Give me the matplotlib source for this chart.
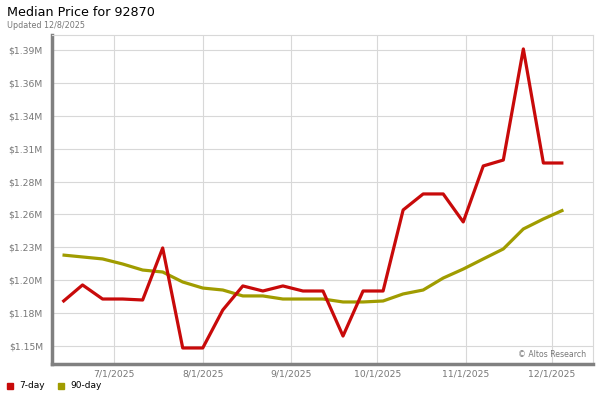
import datetime as dt
import matplotlib
matplotlib.use('Agg')
import matplotlib.pyplot as plt
import matplotlib.dates as mdates
from matplotlib.ticker import FuncFormatter
import numpy as np

# weekly data, Fridays
start = dt.date(2025, 6, 13)
n_pts = 26
dates = [start + dt.timedelta(days=7*i) for i in range(n_pts)]

# median price, 7-day (dollars)
price_7day = [1185700, 1199500, 1188100, 1188100, 1187300, 1229500, 1148400, 1148400,
              1179200, 1198700, 1194600, 1198700, 1194600, 1194600, 1158100, 1194600,
              1194600, 1260300, 1273300, 1273300, 1250600, 1296000, 1300800, 1390900,
              1298400, 1298400]
# median price, 90-day (dollars)
price_90day = [1223800, 1222200, 1220600, 1216500, 1211600, 1210000, 1201900, 1197000,
               1195400, 1190600, 1190600, 1188100, 1188100, 1188100, 1185700, 1185700,
               1186500, 1192200, 1195400, 1205100, 1212400, 1220600, 1228700, 1244900,
               1253000, 1260300]

xtick_dates = [dt.date(2025, 7, 1), dt.date(2025, 8, 1), dt.date(2025, 9, 1),
               dt.date(2025, 10, 1), dt.date(2025, 11, 1), dt.date(2025, 12, 1)]
ytick_vals = np.linspace(1150000, 1390000, 10)

red = '#c80a0a'
olive = '#a09c00'
gray_txt = '#777777'

fig = plt.figure(figsize=(6, 4), dpi=100)
ax = fig.add_axes([52/600, 36/400, 541/600, 329/400])

ax.plot(dates, price_90day, color=olive, lw=2.3, solid_capstyle='butt', zorder=3)
ax.plot(dates, price_7day, color=red, lw=2.3, solid_capstyle='butt', zorder=4)

ax.set_xlim(dt.datetime(2025, 6, 9, 8), dt.datetime(2025, 12, 15, 8))
ax.set_ylim(1135400, 1402200)
ax.set_xticks(xtick_dates)
ax.xaxis.set_major_formatter(FuncFormatter(
    lambda v, p: (lambda d: '%d/%d/%d' % (d.month, d.day, d.year))(mdates.num2date(v))))
ax.set_yticks(ytick_vals)
ax.yaxis.set_major_formatter(FuncFormatter(lambda v, p: '$%.2fM' % (v/1e6)))

ax.grid(True, color='#d8d8d8', lw=0.8)
ax.set_axisbelow(True)
ax.tick_params(axis='both', length=0, labelsize=6.7, colors=gray_txt)
ax.tick_params(axis='y', pad=6.5)
ax.tick_params(axis='x', pad=4)

for s in ['top', 'right']:
    ax.spines[s].set_color('#d8d8d8')
    ax.spines[s].set_linewidth(0.8)
for s in ['left', 'bottom']:
    ax.spines[s].set_color('#808080')
    ax.spines[s].set_linewidth(2.5)

ax.text(0.988, 0.03, '\u00a9 Altos Research', transform=ax.transAxes, ha='right', va='center',
        fontsize=5.6, color=gray_txt)

fig.text(7/600, 1-12/400, 'Median Price for 92870', fontsize=9.2, ha='left', va='center', color='black')
fig.text(7/600, 1-25/400, 'Updated 12/8/2025', fontsize=5.8, ha='left', va='center', color=gray_txt)

# legend
fig.patches.append(plt.Rectangle((7/600, 1-389/400), 6/600, 6/400, transform=fig.transFigure,
                                 color=red, figure=fig))
fig.text(19/600, 1-386/400, '7-day', fontsize=6.5, ha='left', va='center')
fig.patches.append(plt.Rectangle((58/600, 1-389/400), 6/600, 6/400, transform=fig.transFigure,
                                 color=olive, figure=fig))
fig.text(70/600, 1-386/400, '90-day', fontsize=6.5, ha='left', va='center')

fig.savefig('out.png', dpi=100)
